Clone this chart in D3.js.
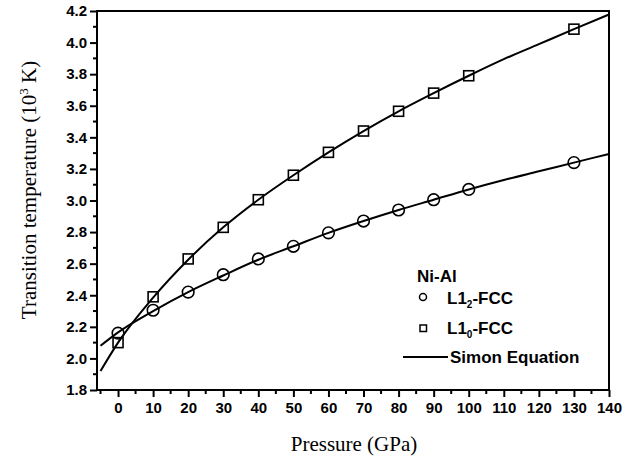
<!DOCTYPE html>
<html>
<head>
<meta charset="utf-8">
<script src="https://cdn.jsdelivr.net/npm/d3@7"></script>
<style>
  body { margin: 0; background: #fff; }
  svg { display: block; }
</style>
</head>
<body>
<svg width="641" height="457"></svg>
<script>
// pressure points (GPa) where the calculations were made
const pressures = [0, 10, 20, 30, 40, 50, 60, 70, 80, 90, 100, 130];
// L1_2-FCC transition temperature (10^3 K)
const l12Values = [2.16, 2.305, 2.42, 2.53, 2.63, 2.71, 2.795, 2.87, 2.94, 3.005, 3.07, 3.24];
// L1_0-FCC transition temperature (10^3 K)
const l10Values = [2.10, 2.39, 2.63, 2.83, 3.005, 3.16, 3.305, 3.44, 3.565, 3.68, 3.79, 4.085];

// Simon equation curves
const simonP = [-5, 0, 10, 20, 30, 40, 50, 60, 70, 80, 90, 100, 110, 120, 130, 140];
const simonL12 = [2.08, 2.165, 2.30, 2.42, 2.525, 2.625, 2.71, 2.795, 2.87, 2.94, 3.005, 3.07, 3.13, 3.185, 3.24, 3.295];
const simonL10 = [1.92, 2.10, 2.385, 2.625, 2.83, 3.005, 3.16, 3.305, 3.44, 3.565, 3.68, 3.79, 3.895, 3.99, 4.085, 4.178];

const xTicks = [0, 10, 20, 30, 40, 50, 60, 70, 80, 90, 100, 110, 120, 130, 140];
const yTicks = [1.8, 2.0, 2.2, 2.4, 2.6, 2.8, 3.0, 3.2, 3.4, 3.6, 3.8, 4.0, 4.2];

const svg = d3.select('svg');
const plotLeft = 97, plotRight = 609, plotTop = 11, plotBottom = 390;
const sans = 'Arial, "Liberation Sans", sans-serif';
const serif = '"Times New Roman", "Liberation Serif", serif';

const x = d3.scaleLinear().domain([-6, 140]).range([plotLeft, plotRight]);
const y = d3.scaleLinear().domain([1.8, 4.2]).range([plotBottom, plotTop]);

// minor ticks
const xMinor = d3.range(-5, 140, 10);
const yMinor = d3.range(1.9, 4.2, 0.2);

svg.append('g')
    .selectAll('line')
    .data(xMinor)
    .enter().append('line')
    .attr('x1', d => x(d)).attr('x2', d => x(d))
    .attr('y1', plotBottom).attr('y2', plotBottom + 4)
    .attr('stroke', '#000').attr('stroke-width', 2);

svg.append('g')
    .selectAll('line')
    .data(yMinor)
    .enter().append('line')
    .attr('x1', plotLeft - 4).attr('x2', plotLeft)
    .attr('y1', d => y(d)).attr('y2', d => y(d))
    .attr('stroke', '#000').attr('stroke-width', 2);

// bottom axis
const xAxis = svg.append('g')
    .attr('transform', `translate(0,${plotBottom})`)
    .call(d3.axisBottom(x).tickValues(xTicks).tickSize(7).tickPadding(5).tickSizeOuter(0).tickFormat(d3.format('d')));

// left axis
const yAxis = svg.append('g')
    .attr('transform', `translate(${plotLeft},0)`)
    .call(d3.axisLeft(y).tickValues(yTicks).tickSize(7).tickPadding(3).tickSizeOuter(0).tickFormat(d3.format('.1f')));

[xAxis, yAxis].forEach(a => {
    a.select('.domain').remove();
    a.selectAll('line').attr('stroke-width', 2);
    a.selectAll('text')
        .attr('font-family', sans)
        .attr('font-weight', 'bold')
        .attr('font-size', 15)
        .attr('fill', '#000');
});

// frame
svg.append('rect')
    .attr('x', plotLeft).attr('y', plotTop)
    .attr('width', plotRight - plotLeft).attr('height', plotBottom - plotTop)
    .attr('fill', 'none').attr('stroke', '#000').attr('stroke-width', 2);

// Simon equation lines
const line = d3.line()
    .x(d => x(d[0]))
    .y(d => y(d[1]))
    .curve(d3.curveMonotoneX);

[simonL12, simonL10].forEach(vals => {
    svg.append('path')
        .datum(simonP.map((p, i) => [p, vals[i]]))
        .attr('fill', 'none')
        .attr('stroke', '#000')
        .attr('stroke-width', 2)
        .attr('d', line);
});

// markers
svg.append('g')
    .selectAll('circle')
    .data(pressures.map((p, i) => [p, l12Values[i]]))
    .enter().append('circle')
    .attr('cx', d => x(d[0]))
    .attr('cy', d => y(d[1]))
    .attr('r', 5.8)
    .attr('fill', 'none')
    .attr('stroke', '#000')
    .attr('stroke-width', 1.6);

svg.append('g')
    .selectAll('rect')
    .data(pressures.map((p, i) => [p, l10Values[i]]))
    .enter().append('rect')
    .attr('x', d => x(d[0]) - 5)
    .attr('y', d => y(d[1]) - 5)
    .attr('width', 10)
    .attr('height', 10)
    .attr('fill', 'none')
    .attr('stroke', '#000')
    .attr('stroke-width', 1.6);

// legend
const lg = svg.append('g').attr('font-family', sans).attr('font-size', 17).attr('font-weight', 'bold').attr('fill', '#000');
lg.append('text').attr('x', 417).attr('y', 282).text('Ni-Al');
lg.append('circle').attr('cx', 423).attr('cy', 297).attr('r', 3.5)
    .attr('fill', 'none').attr('stroke', '#000').attr('stroke-width', 1.5);
lg.append('rect').attr('x', 420).attr('y', 325).attr('width', 6.5).attr('height', 6.5)
    .attr('fill', 'none').attr('stroke', '#000').attr('stroke-width', 1.5);
lg.append('line').attr('x1', 403).attr('x2', 448).attr('y1', 357).attr('y2', 357)
    .attr('stroke', '#000').attr('stroke-width', 2);

const t1 = lg.append('text').attr('x', 447).attr('y', 304);
t1.append('tspan').text('L1');
t1.append('tspan').attr('font-size', 10).attr('dy', 4).text('2');
t1.append('tspan').attr('dy', -4).text('-FCC');

const t2 = lg.append('text').attr('x', 447).attr('y', 334);
t2.append('tspan').text('L1');
t2.append('tspan').attr('font-size', 10).attr('dy', 4).text('0');
t2.append('tspan').attr('dy', -4).text('-FCC');

lg.append('text').attr('x', 450).attr('y', 363).text('Simon Equation');

// axis titles
svg.append('text')
    .attr('x', 354)
    .attr('y', 451)
    .attr('text-anchor', 'middle')
    .attr('font-family', serif)
    .attr('font-size', 21)
    .text('Pressure (GPa)');

const yt = svg.append('text')
    .attr('transform', `translate(36,190) rotate(-90)`)
    .attr('text-anchor', 'middle')
    .attr('font-family', serif)
    .attr('font-size', 21);
yt.append('tspan').text('Transition temperature (10');
yt.append('tspan').attr('font-size', 13).attr('dy', -8).text('3');
yt.append('tspan').attr('dy', 8).text(' K)');
</script>
</body>
</html>
